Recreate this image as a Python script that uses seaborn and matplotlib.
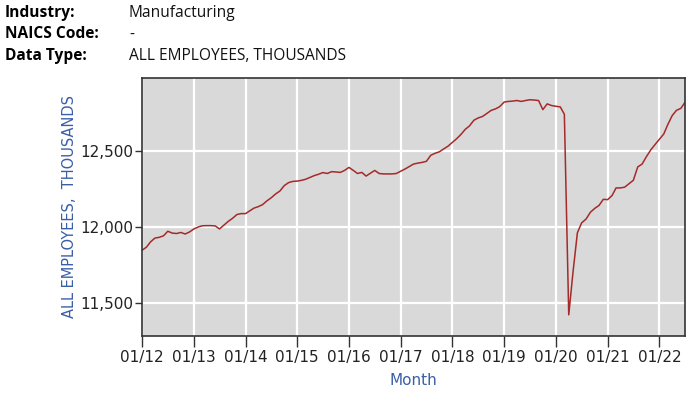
import matplotlib
matplotlib.use("Agg")
import matplotlib.pyplot as plt
import matplotlib.dates as mdates
from matplotlib.ticker import FuncFormatter
import numpy as np
import pandas as pd
import seaborn as sns

# monthly employment, thousands, Jan 2012 .. Jul 2022
emp_2012 = [11845, 11865, 11900, 11925, 11930, 11940, 11970, 11958, 11955, 11962, 11952, 11965]
emp_2013 = [11985, 11998, 12006, 12007, 12007, 12005, 11985, 12010, 12035, 12055, 12080, 12086]
emp_2014 = [12086, 12105, 12122, 12132, 12145, 12170, 12190, 12215, 12235, 12270, 12290, 12298]
emp_2015 = [12300, 12305, 12312, 12324, 12336, 12345, 12356, 12350, 12362, 12360, 12357, 12370]
emp_2016 = [12390, 12370, 12350, 12357, 12333, 12352, 12370, 12350, 12347, 12347, 12347, 12350]
emp_2017 = [12365, 12380, 12395, 12412, 12418, 12423, 12430, 12470, 12483, 12493, 12512, 12530]
emp_2018 = [12555, 12580, 12606, 12640, 12663, 12700, 12715, 12725, 12745, 12765, 12775, 12790]
emp_2019 = [12820, 12824, 12826, 12830, 12824, 12830, 12835, 12833, 12830, 12770, 12808, 12797]
emp_2020 = [12792, 12788, 12740, 11420, 11700, 11960, 12025, 12050, 12095, 12120, 12140, 12180]
emp_2021 = [12178, 12205, 12255, 12255, 12260, 12283, 12305, 12393, 12412, 12460, 12505, 12540]
emp_2022 = [12575, 12610, 12671, 12730, 12765, 12778, 12818]

employees = (emp_2012 + emp_2013 + emp_2014 + emp_2015 + emp_2016 + emp_2017
             + emp_2018 + emp_2019 + emp_2020 + emp_2021 + emp_2022)
months = pd.date_range("2012-01-01", periods=len(employees), freq="MS")
yticks = [11500, 12000, 12500]
xtick_years = list(range(2012, 2023))

header_keys = ["Industry:", "NAICS Code:", "Data Type:"]
header_vals = ["Manufacturing", "-", "ALL EMPLOYEES, THOUSANDS"]

df = pd.DataFrame({"Month": months, "Employees": employees})

sns.set_theme(style="darkgrid", rc={
    "axes.facecolor": "#d9d9d9",
    "grid.color": "white",
    "grid.linewidth": 1.6,
    "axes.edgecolor": "#333333",
    "text.color": "#111111",
    "xtick.color": "#222222",
    "ytick.color": "#222222",
})
plt.rcParams["font.family"] = ["DejaVu Sans"]

fig = plt.figure(figsize=(7.0, 3.95), dpi=100)
ax = fig.add_axes([0.2029, 0.1494, 0.7757, 0.6531])

sns.lineplot(data=df, x="Month", y="Employees", ax=ax, color="#a52a2a", lw=1.1)

ax.set_xlim(months[0], months[-1])
ax.set_ylim(11281, 12978)
ax.set_yticks(yticks)
ax.yaxis.set_major_formatter(FuncFormatter(lambda v, p: f"{v:,.0f}"))
ax.set_xticks([pd.Timestamp(f"{y}-01-01") for y in xtick_years])
ax.xaxis.set_major_formatter(mdates.DateFormatter("%m/%y"))

ax.tick_params(axis="x", which="major", length=8, width=1, color="#333333",
               labelsize=11, pad=2, bottom=True)
ax.tick_params(axis="y", which="major", length=5, width=1, color="#333333",
               labelsize=11, pad=1, left=True)
for s in ax.spines.values():
    s.set_visible(True)
    s.set_linewidth(1.2)
    s.set_color("#333333")

ax.set_xlabel("Month", color="#3a5ea8", fontsize=11, labelpad=6)
ax.set_ylabel("ALL EMPLOYEES,  THOUSANDS", color="#3a5ea8", fontsize=10.5, labelpad=2.5)

for i, (k, v) in enumerate(zip(header_keys, header_vals)):
    ypos = 1 - (13 + 21.5 * i) / 395
    fig.text(5 / 700, ypos, k, fontsize=11.2, fontweight="bold", family="Open Sans",
             va="center", ha="left", color="black")
    fig.text(129 / 700, ypos, v, fontsize=11.2, family="Open Sans",
             va="center", ha="left", color="#111111")

fig.savefig("out.png", dpi=100)
plt.close(fig)
